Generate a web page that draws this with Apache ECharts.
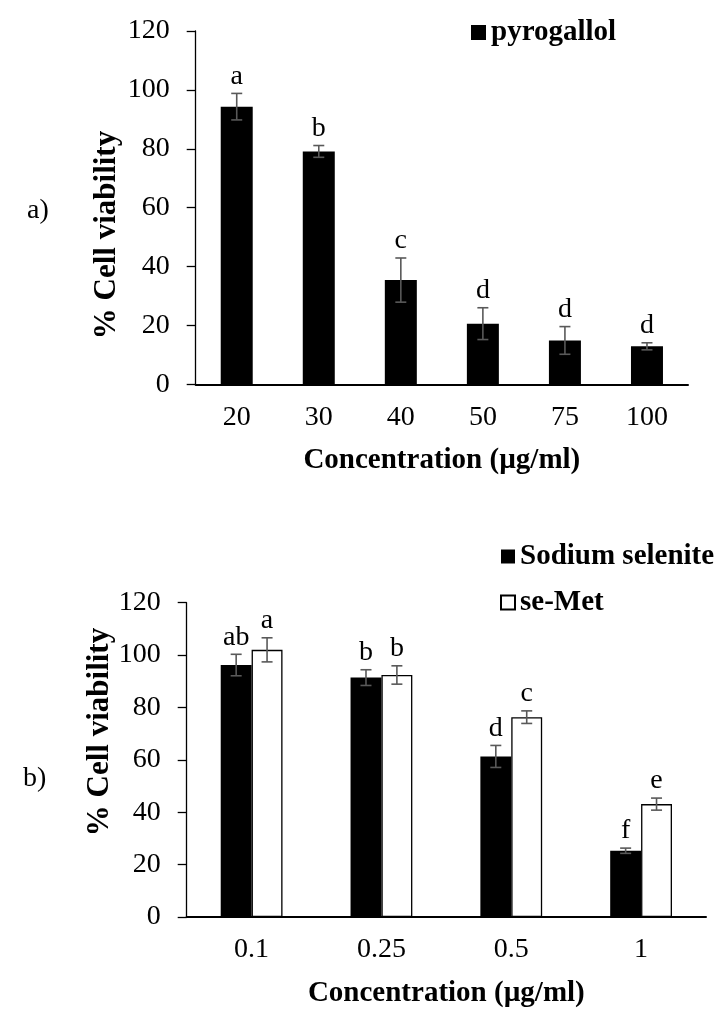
<!DOCTYPE html>
<html>
<head>
<meta charset="utf-8">
<script src="https://cdn.jsdelivr.net/npm/echarts@6/dist/echarts.min.js"></script>
<style>
html,body{margin:0;padding:0;background:#fff;}
#chart{width:715px;height:1009px;}
</style>
</head>
<body>
<div id="chart"></div>
<script>
// ---- Data (panel a) ----
const catsA = ['20', '30', '40', '50', '75', '100'];
const pyroMean = [94.3, 79.1, 35.4, 20.6, 14.9, 12.9];
const pyroErr = [4.5, 2.0, 7.5, 5.4, 4.7, 1.2];
const pyroLetters = ['a', 'b', 'c', 'd', 'd', 'd'];

// ---- Data (panel b) ----
const catsB = ['0.1', '0.25', '0.5', '1'];
const seleniteMean = [96.2, 91.4, 61.3, 25.3];
const seleniteErr = [4.1, 3.0, 4.2, 1.0];
const seleniteLetters = ['ab', 'b', 'd', 'f'];
const semetMean = [102.0, 92.4, 76.3, 43.1];
const semetErr = [4.6, 3.5, 2.4, 2.3];
const semetLetters = ['a', 'b', 'c', 'e'];

// axis scale
const yMin = 0, yMax = 120, yStep = 20;

const FONT = 'Liberation Serif';
const ERR_COLOR = '#595959';

function errSeries(xIdx, yIdx, means, errs, letters, offsetFrac) {
  return {
    type: 'custom',
    xAxisIndex: xIdx,
    yAxisIndex: yIdx,
    z: 10,
    clip: false,
    silent: true,
    data: means.map((m, i) => [i, m, errs[i]]),
    renderItem: function (params, api) {
      const i = api.value(0), m = api.value(1), e = api.value(2);
      const band = api.size([1, 0])[0];
      const cx = api.coord([i, m])[0] + offsetFrac * band;
      const yt = api.coord([i, m + e])[1];
      const yb = api.coord([i, m - e])[1];
      const cap = 5.5;
      const ls = { stroke: ERR_COLOR, lineWidth: 1.6 };
      return {
        type: 'group',
        children: [
          { type: 'line', shape: { x1: cx, y1: yt, x2: cx, y2: yb }, style: ls },
          { type: 'line', shape: { x1: cx - cap, y1: yt, x2: cx + cap, y2: yt }, style: ls },
          { type: 'line', shape: { x1: cx - cap, y1: yb, x2: cx + cap, y2: yb }, style: ls },
          { type: 'text', style: { text: letters[params.dataIndex], x: cx, y: yt - 3,
              align: 'center', verticalAlign: 'bottom', fontSize: 28, fontFamily: FONT, fill: '#000' } }
        ]
      };
    }
  };
}

const axisLabelStyle = { color: '#000', fontSize: 28, fontFamily: FONT };

function yAxis(gridIndex) {
  return {
    type: 'value', gridIndex: gridIndex, min: yMin, max: yMax, interval: yStep,
    splitLine: { show: false },
    axisLine: { show: true, lineStyle: { color: '#000', width: 1.3 } },
    axisTick: { show: true, length: 9, lineStyle: { color: '#000', width: 1.3 } },
    axisLabel: Object.assign({ margin: 26 }, axisLabelStyle)
  };
}

function xAxis(gridIndex, cats) {
  return {
    type: 'category', gridIndex: gridIndex, data: cats, boundaryGap: true,
    axisLine: { show: true, lineStyle: { color: '#000', width: 2 } },
    axisTick: { show: false },
    axisLabel: Object.assign({ margin: 19, interval: 0 }, axisLabelStyle),
    name: 'Concentration (\u00b5g/ml)',
    nameLocation: 'middle',
    nameGap: 62,
    nameTextStyle: { color: '#000', fontSize: 29, fontWeight: 'bold', fontFamily: FONT }
  };
}

const legendText = {
  color: '#000', fontSize: 29, fontWeight: 'bold', fontFamily: FONT,
  rich: { t: { color: '#000', fontSize: 29, fontWeight: 'bold', fontFamily: FONT } }
};

const option = {
  animation: false,
  backgroundColor: '#fff',
  textStyle: { fontFamily: FONT },
  grid: [
    { left: 195.7, top: 31, width: 492.3, height: 353.3 },
    { left: 186.7, top: 602.7, width: 519.3, height: 316 }
  ],
  xAxis: [xAxis(0, catsA), xAxis(1, catsB)],
  yAxis: [yAxis(0), yAxis(1)],
  legend: [
    {
      data: [{ name: 'pyrogallol', icon: 'rect' }], left: 466, top: 13, itemWidth: 15, itemHeight: 15,
      selectedMode: false, textStyle: legendText, formatter: '{t|{name}}'
    },
    {
      data: [{ name: 'Sodium selenite', icon: 'rect' }, { name: 'se-Met', icon: 'rect' }],
      orient: 'vertical', left: 495, top: 537,
      itemWidth: 14, itemHeight: 14, itemGap: 17, selectedMode: false,
      textStyle: legendText, formatter: '{t|{name}}'
    }
  ],
  graphic: [
    { type: 'text', left: 27, top: 197, style: { text: 'a)', fontSize: 28, fontFamily: FONT, fill: '#000' } },
    { type: 'text', left: 23, top: 765, style: { text: 'b)', fontSize: 28, fontFamily: FONT, fill: '#000' } },
    { type: 'text', x: 107, y: 235, rotation: Math.PI / 2,
      style: { text: '% Cell viability', fontSize: 31, fontWeight: 'bold', fontFamily: FONT, fill: '#000',
               align: 'center', verticalAlign: 'middle' } },
    { type: 'text', x: 100, y: 732, rotation: Math.PI / 2,
      style: { text: '% Cell viability', fontSize: 31, fontWeight: 'bold', fontFamily: FONT, fill: '#000',
               align: 'center', verticalAlign: 'middle' } }
  ],
  series: [
    {
      name: 'pyrogallol', type: 'bar', xAxisIndex: 0, yAxisIndex: 0,
      barWidth: '39%', data: pyroMean,
      itemStyle: { color: '#000' }
    },
    errSeries(0, 0, pyroMean, pyroErr, pyroLetters, 0),
    {
      name: 'Sodium selenite', type: 'bar', xAxisIndex: 1, yAxisIndex: 1,
      barWidth: '23.8%', barGap: '0%', data: seleniteMean,
      itemStyle: { color: '#000' }
    },
    {
      name: 'se-Met', type: 'bar', xAxisIndex: 1, yAxisIndex: 1,
      barWidth: '23.8%', barGap: '0%', data: semetMean,
      itemStyle: { color: '#fff', borderColor: '#000', borderWidth: 1.3 }
    },
    errSeries(1, 1, seleniteMean, seleniteErr, seleniteLetters, -0.119),
    errSeries(1, 1, semetMean, semetErr, semetLetters, 0.119)
  ]
};

const chart = echarts.init(document.getElementById('chart'), null, { renderer: 'canvas' });
chart.setOption(option);
</script>
</body>
</html>
